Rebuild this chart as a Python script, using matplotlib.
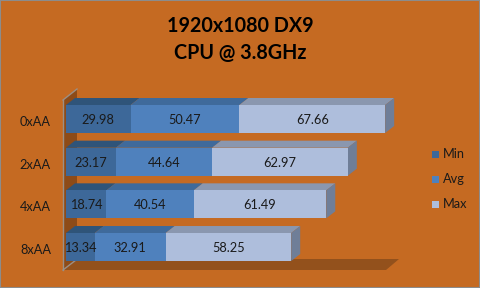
import matplotlib
matplotlib.use("Agg")
import matplotlib.pyplot as plt
from matplotlib.patches import Polygon, Rectangle

plt.rcParams['font.family'] = ['Lato', 'DejaVu Sans']

# ---- data ----
categories = ["0xAA", "2xAA", "4xAA", "8xAA"]
series_names = ["Min", "Avg", "Max"]
min_fps = [29.98, 23.17, 18.74, 13.34]
avg_fps = [50.47, 44.64, 40.54, 32.91]
max_fps = [67.66, 62.97, 61.49, 58.25]
title_lines = ["1920x1080 DX9", "CPU @ 3.8GHz"]
axis_max = 150

# ---- style ----
BG = "#C56A22"
WALL = "#8D4B18"
FLOOR = "#93511C"
EDGE = "#9A8F86"
front_cols = ["#3D6899", "#4F81BD", "#AEBEDC"]
top_cols = ["#2F5479", "#3F6A9B", "#8A97AF"]
side_col = "#6F7E98"
TXT = "#1A1A1A"
LABEL_FS = 9.2

W, H = 480, 288
fig = plt.figure(figsize=(W / 100, H / 100), dpi=100, facecolor=BG)
ax = fig.add_axes([0, 0, 1, 1])
ax.set_facecolor(BG)

# value axis: 0 at x=66px, 2.155 px per unit; category spacing 42.67 px
PX_PER_UNIT = 2.155
X0_PX = 66.0
ROW_PX = 42.67
ROW0_PX = 119.0
ax.set_xlim(-X0_PX / PX_PER_UNIT, (W - X0_PX) / PX_PER_UNIT)
ax.set_ylim((H - ROW0_PX) / ROW_PX, -ROW0_PX / ROW_PX)
ax.axis("off")

def px_x(p):
    return (p - X0_PX) / PX_PER_UNIT

def px_y(p):
    return (p - ROW0_PX) / ROW_PX

# depth offsets of the bars
BDX, BDY = 9 / PX_PER_UNIT, -7 / ROW_PX
half_h = 14 / ROW_PX

# back wall and floor of the 3-D plot box (floor runs to the axis maximum)
wall = [(px_x(63), px_y(100)), (px_x(77), px_y(89)),
        (px_x(77), px_y(259)), (px_x(63), px_y(270))]
ax.add_patch(Polygon(wall, closed=True, facecolor=WALL, edgecolor="none", zorder=1))
floor_end = axis_max - 1.5
floor = [(px_x(63), px_y(270)), (px_x(77), px_y(259)),
         (floor_end + 13 / PX_PER_UNIT, px_y(259)), (floor_end, px_y(270))]
ax.add_patch(Polygon(floor, closed=True, facecolor=FLOOR, edgecolor="none", zorder=1))
ax.plot([px_x(63), px_x(63)], [px_y(100), px_y(270)], color=EDGE, lw=1, zorder=2)
ax.plot([px_x(63), px_x(77)], [px_y(100), px_y(89)], color=EDGE, lw=1, zorder=2)
ax.plot([px_x(63), px_x(76)], [px_y(270), px_y(260)], color=EDGE, lw=1, zorder=2)

# stacked 3-D bars
for i, cat in enumerate(categories):
    vals = [min_fps[i], avg_fps[i], max_fps[i]]
    y_top, y_bot = i - half_h, i + half_h
    left = 0.0
    for k, v in enumerate(vals):
        right = left + v
        top = [(left, y_top), (left + BDX, y_top + BDY),
               (right + BDX, y_top + BDY), (right, y_top)]
        ax.add_patch(Polygon(top, closed=True, facecolor=top_cols[k],
                             edgecolor="none", zorder=3))
        ax.add_patch(Rectangle((left, y_top), v, y_bot - y_top,
                               facecolor=front_cols[k], edgecolor="none", zorder=4))
        ax.text((left + right) / 2, i + 0.02, f"{v:.2f}", ha="center", va="center",
                fontsize=LABEL_FS, color=TXT, zorder=6)
        left = right
    side = [(left, y_top), (left + BDX, y_top + BDY),
            (left + BDX, y_bot + BDY), (left, y_bot)]
    ax.add_patch(Polygon(side, closed=True, facecolor=side_col,
                         edgecolor="none", zorder=3))
    ax.text(px_x(51), i + 3 / ROW_PX, cat, ha="right", va="center",
            fontsize=LABEL_FS, color=TXT, zorder=6)

# title
fig.text(0.5, 1 - 26.5 / H, title_lines[0], ha="center", va="center",
         fontsize=14.2, fontweight="bold", color="black")
fig.text(0.5, 1 - 53 / H, title_lines[1], ha="center", va="center",
         fontsize=14.2, fontweight="bold", color="black")

# legend
for k, name in enumerate(series_names):
    cy = 154 + 25 * k
    fig.patches.append(Rectangle((432 / W, 1 - (cy + 3.5) / H), 7 / W, 7 / H,
                                 transform=fig.transFigure, facecolor=front_cols[k],
                                 edgecolor="none"))
    fig.text(443 / W, 1 - cy / H, name, ha="left", va="center",
             fontsize=LABEL_FS, color=TXT)

# thin grey frame round the chart area
fig.patches.append(Rectangle((0, 0), 1, 1, transform=fig.transFigure,
                             facecolor="none", edgecolor="#8C8C8C", lw=1.5))

fig.savefig("out.png", dpi=100, facecolor=BG)
